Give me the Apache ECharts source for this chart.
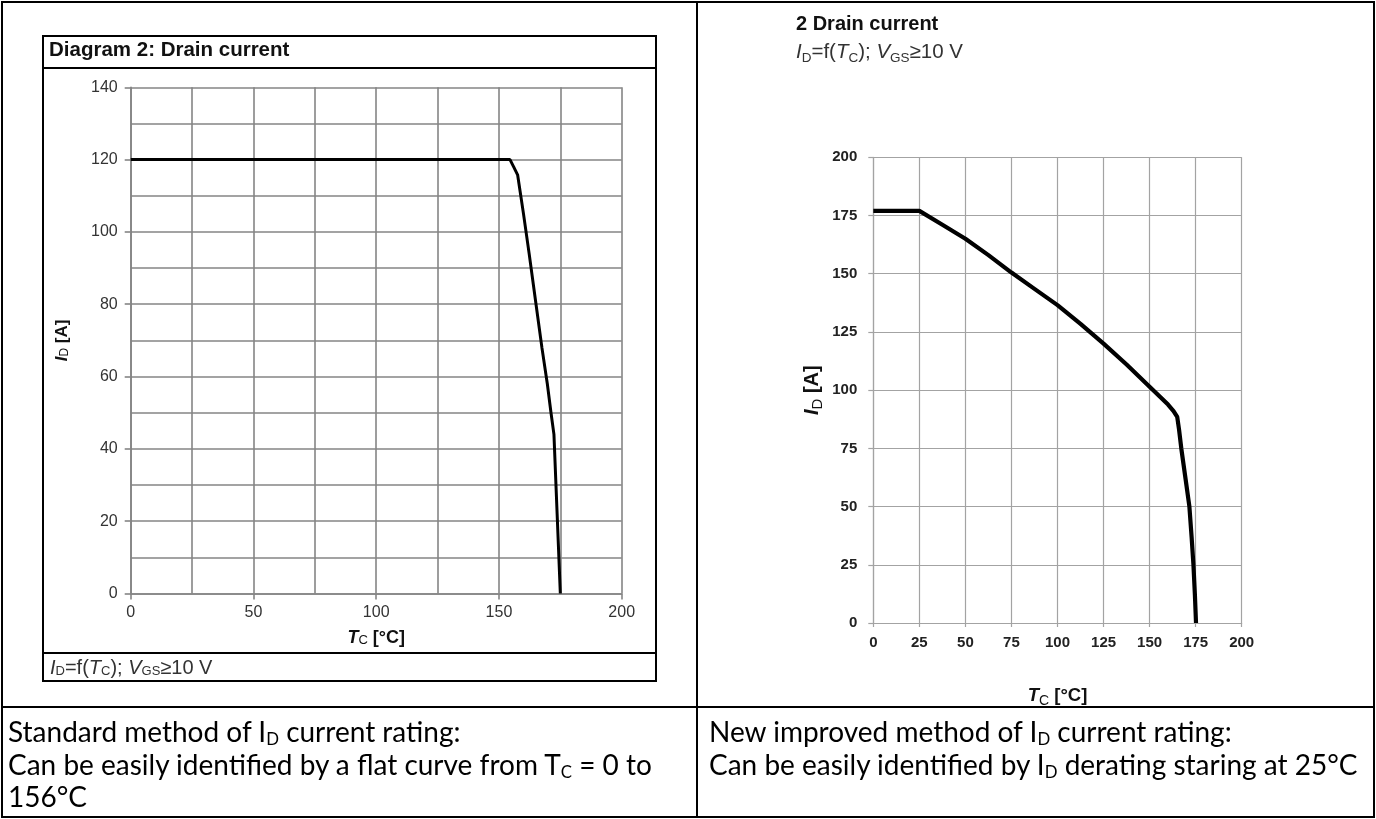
<!DOCTYPE html>
<html><head><meta charset="utf-8">
<script src="https://cdn.jsdelivr.net/npm/echarts@6/dist/echarts.min.js"></script>
<style>
html,body{margin:0;padding:0;background:#fff;}
#wrap{position:relative;width:1376px;height:819px;overflow:hidden;background:#fff;}
#chart{position:absolute;left:0;top:0;width:1376px;height:819px;}
.ln{position:absolute;background:#000;}
.txt{position:absolute;font-family:Lato,'Open Sans',sans-serif;font-size:28px;line-height:32.5px;color:#000;white-space:nowrap;}
.txt sub{font-size:60%;line-height:0;vertical-align:baseline;position:relative;top:0.18em;}
</style></head><body>
<div id="wrap">
<div id="chart"></div>
<!-- outer table -->
<div class="ln" style="left:1px;top:1px;width:1374px;height:2px"></div>
<div class="ln" style="left:1px;top:816px;width:1374px;height:2px"></div>
<div class="ln" style="left:1px;top:1px;width:2px;height:817px"></div>
<div class="ln" style="left:1373px;top:1px;width:2px;height:817px"></div>
<div class="ln" style="left:696px;top:1px;width:2px;height:817px"></div>
<div class="ln" style="left:1px;top:706px;width:1374px;height:2px"></div>
<!-- left diagram box -->
<div class="ln" style="left:42px;top:35px;width:615px;height:2px"></div>
<div class="ln" style="left:42px;top:67px;width:615px;height:2px"></div>
<div class="ln" style="left:42px;top:652px;width:615px;height:2px"></div>
<div class="ln" style="left:42px;top:680px;width:615px;height:2px"></div>
<div class="ln" style="left:42px;top:35px;width:2px;height:647px"></div>
<div class="ln" style="left:655px;top:35px;width:2px;height:647px"></div>
<!-- bottom texts -->
<div class="txt" style="left:8px;top:715px">Standard method of I<sub>D</sub> current rating:<br>Can be easily identified by a flat curve from T<sub>C</sub> = 0 to<br>156°C</div>
<div class="txt" style="left:709px;top:715px">New improved method of I<sub>D</sub> current rating:<br>Can be easily identified by I<sub>D</sub> derating staring at 25°C</div>
</div>
<script>
// ---- data ----
const leftTemps    = [0, 154.5, 156, 157.6, 160, 162.3, 165, 167.5, 169.7, 171.2, 172.4, 173.7, 175];
const leftCurrents = [120, 120, 118, 115.8, 105, 94, 80.5, 68, 58, 50, 44, 22, 0];
const rightTemps    = [0, 25, 37.5, 50, 62.5, 75, 87.5, 100, 112.5, 125, 137.5, 150, 160, 163, 165, 166, 167.2, 169.5, 171.6, 172.8, 173.8, 174.6, 175.2];
const rightCurrents = [177, 177, 171, 165, 158, 150.5, 143.5, 136.5, 128.5, 120, 111, 101.5, 93.8, 91, 88.5, 83, 75, 62, 50, 37, 25, 12, 0];
const leftXTicks  = {min: 0, max: 200, step: 50, minorSplit: 2};
const leftYTicks  = {min: 0, max: 140, step: 20, minorSplit: 2};
const rightXTicks = {min: 0, max: 200, step: 25};
const rightYTicks = {min: 0, max: 200, step: 25};
const leftTitle = 'Diagram 2: Drain current';
const rightTitle = '2 Drain current';

const zip = (a, b) => a.map((v, i) => [v, b[i]]);
const F = 'Liberation Sans, Arial, sans-serif';
const LG = '#858585';
const RG = '#a3a3a3';

const formulaRich = (size, subSize, subPad) => ({
  n: {fontFamily: F, fontSize: size, fontWeight: 'normal', color: '#333'},
  i: {fontFamily: F, fontSize: size, fontWeight: 'normal', color: '#333', fontStyle: 'italic'},
  s: {fontFamily: F, fontSize: subSize, fontWeight: 'normal', color: '#333', padding: [subPad, 0, 0, 0]}
});
const formula = '{i|I}{s|D}{n|=f(}{i|T}{s|C}{n|); }{i|V}{s|GS}{n|≥10 V}';

const nameRich = (size, subSize, subPad) => ({
  i: {fontFamily: F, fontWeight: 'bold', fontStyle: 'italic', fontSize: size, color: '#111'},
  s: {fontFamily: F, fontWeight: 'normal', fontSize: subSize, color: '#111', padding: [subPad, 0, 0, 0]},
  b: {fontFamily: F, fontWeight: 'bold', fontSize: size, color: '#111'}
});

const chart = echarts.init(document.getElementById('chart'), null, {renderer: 'canvas'});
chart.setOption({
  backgroundColor: 'transparent',
  animation: false,
  title: [
    {text: leftTitle, left: 49, top: 40, padding: 0,
     textStyle: {fontFamily: F, fontWeight: 'bold', fontSize: 20.5, color: '#111'}},
    {text: formula, left: 50, top: 658.5, padding: 0,
     textStyle: {fontFamily: F, fontSize: 20, fontWeight: 'normal', rich: formulaRich(20, 13, 5)}},
    {text: rightTitle, left: 796, top: 14.5, padding: 0,
     textStyle: {fontFamily: F, fontWeight: 'bold', fontSize: 20, color: '#111'}},
    {text: formula, left: 796, top: 38.5, padding: 0,
     textStyle: {fontFamily: F, fontSize: 20.5, fontWeight: 'normal', rich: formulaRich(20.5, 13.5, 13)}}
  ],
  grid: [
    {left: 130.7, right: 754.3, top: 87.3, bottom: 225.5, outerBoundsMode: 'none'},
    {left: 873.3, right: 134.3, top: 157.3, bottom: 196, outerBoundsMode: 'none'}
  ],
  xAxis: [
    {type: 'value', gridIndex: 0, min: leftXTicks.min, max: leftXTicks.max, interval: leftXTicks.step,
     axisLine: {show: true, onZero: false, lineStyle: {color: LG, width: 1.6}},
     axisTick: {show: true, length: 6, lineStyle: {color: LG, width: 1.6}},
     minorTick: {show: false, splitNumber: leftXTicks.minorSplit},
     splitLine: {show: true, lineStyle: {color: LG, width: 1.6}},
     minorSplitLine: {show: true, lineStyle: {color: LG, width: 1.6}},
     axisLabel: {fontFamily: F, fontSize: 16, color: '#333', margin: 11},
     name: '{i|T}{s|C}{b| [°C]}', nameLocation: 'middle', nameGap: 36,
     nameTextStyle: {fontFamily: F, fontWeight: 'bold', fontSize: 18, color: '#111', rich: nameRich(18, 13, 4)}},
    {type: 'value', gridIndex: 1, min: rightXTicks.min, max: rightXTicks.max, interval: rightXTicks.step,
     axisLine: {show: true, onZero: false, lineStyle: {color: RG, width: 1.2}},
     axisTick: {show: true, length: 4, lineStyle: {color: RG, width: 1.2}},
     splitLine: {show: true, lineStyle: {color: RG, width: 1.2}},
     axisLabel: {fontFamily: F, fontSize: 15, fontWeight: 'bold', color: '#222', margin: 12},
     name: '{i|T}{s|C}{b| [°C]}', nameLocation: 'middle', nameGap: 61,
     nameTextStyle: {fontFamily: F, fontWeight: 'bold', fontSize: 18.5, color: '#111', rich: nameRich(18.5, 14, 10)}}
  ],
  yAxis: [
    {type: 'value', gridIndex: 0, min: leftYTicks.min, max: leftYTicks.max, interval: leftYTicks.step,
     axisLine: {show: true, onZero: false, lineStyle: {color: LG, width: 1.6}},
     axisTick: {show: true, length: 6, lineStyle: {color: LG, width: 1.6}},
     minorTick: {show: false, splitNumber: leftYTicks.minorSplit},
     splitLine: {show: true, lineStyle: {color: LG, width: 1.6}},
     minorSplitLine: {show: true, lineStyle: {color: LG, width: 1.6}},
     axisLabel: {fontFamily: F, fontSize: 16, color: '#333', margin: 13},
     name: '{i|I}{s|D}{b| [A]}', nameLocation: 'middle', nameGap: 60, nameRotate: 90,
     nameTextStyle: {fontFamily: F, fontWeight: 'bold', fontSize: 17, color: '#111', rich: nameRich(17, 12, 4)}},
    {type: 'value', gridIndex: 1, min: rightYTicks.min, max: rightYTicks.max, interval: rightYTicks.step,
     axisLine: {show: true, onZero: false, lineStyle: {color: RG, width: 1.2}},
     axisTick: {show: true, length: 5, lineStyle: {color: RG, width: 1.2}},
     splitLine: {show: true, lineStyle: {color: RG, width: 1.2}},
     axisLabel: {fontFamily: F, fontSize: 15, fontWeight: 'bold', color: '#222', margin: 16},
     name: '{i|I}{s|D}{b| [A]}', nameLocation: 'middle', nameGap: 48, nameRotate: 90,
     nameTextStyle: {fontFamily: F, fontWeight: 'bold', fontSize: 20, color: '#111', rich: nameRich(20, 15, 11)}}
  ],
  series: [
    {type: 'line', xAxisIndex: 0, yAxisIndex: 0, data: zip(leftTemps, leftCurrents),
     showSymbol: false, symbol: 'none', lineStyle: {color: '#000', width: 3}},
    {type: 'line', xAxisIndex: 1, yAxisIndex: 1, data: zip(rightTemps, rightCurrents),
     showSymbol: false, symbol: 'none', lineStyle: {color: '#000', width: 4.2}}
  ]
});
</script>
</body></html>
